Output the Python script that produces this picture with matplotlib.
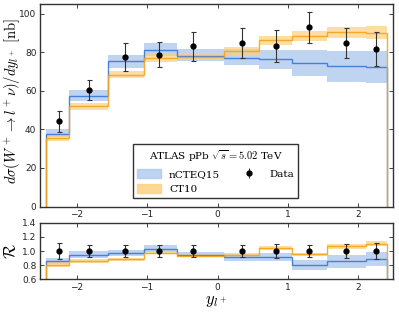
import numpy as np
import matplotlib
matplotlib.use("Agg")
import matplotlib.pyplot as plt
from matplotlib.patches import Patch

plt.rcParams['mathtext.fontset'] = 'cm'
plt.rcParams['font.family'] = 'DejaVu Sans'

# bin edges in y_l+
edges = np.array([-2.44, -2.11, -1.55, -1.05, -0.58, 0.085, 0.59, 1.06, 1.55, 2.11, 2.40])

# ATLAS data points
data_x = np.array([-2.25, -1.83, -1.31, -0.825, -0.35, 0.345, 0.83, 1.30, 1.83, 2.25])
data_y = np.array([44.1, 60.6, 77.6, 78.8, 83.1, 84.8, 83.1, 92.9, 84.8, 81.7])
data_err = np.array([5.2, 5.2, 7.1, 6.6, 7.4, 7.8, 8.2, 8.2, 7.9, 8.7])

# nCTEQ15 prediction
ncteq_c = np.array([37.6, 57.5, 75.6, 81.0, 78.0, 77.0, 76.4, 74.4, 72.7, 72.5])
ncteq_lo = np.array([36.0, 54.5, 71.8, 78.0, 75.6, 73.2, 71.5, 67.5, 64.4, 64.2])
ncteq_hi = np.array([40.0, 60.5, 78.8, 85.0, 81.6, 81.7, 81.3, 81.0, 80.5, 80.5])

# CT10 prediction
ct10_c = np.array([35.5, 51.9, 68.4, 77.0, 77.8, 80.5, 86.2, 88.6, 90.3, 90.0])
ct10_lo = np.array([34.0, 50.2, 66.7, 75.1, 76.0, 78.8, 84.0, 85.7, 87.4, 87.0])
ct10_hi = np.array([37.0, 53.6, 70.1, 78.9, 79.6, 82.8, 88.6, 90.9, 93.1, 93.4])

blue_line = '#3a78d4'
blue_band = '#aac6ec'
orange_line = '#f5a41c'
orange_band = '#fdcf7a'

fig = plt.figure(figsize=(3.99, 3.12), dpi=100)
ax = fig.add_axes([0.100, 0.338, 0.885, 0.649])
axr = fig.add_axes([0.100, 0.105, 0.885, 0.181])


def draw(a, nc, nlo, nhi, cc, clo, chi, dy, de):
    a.stairs(nhi, edges, baseline=nlo, fill=True, color=blue_band, alpha=0.75, lw=0)
    a.stairs(chi, edges, baseline=clo, fill=True, color=orange_band, alpha=0.7, lw=0)
    a.stairs(nc, edges, baseline=0, color=blue_line, lw=1.0, alpha=0.9)
    a.stairs(cc, edges, baseline=0, color=orange_line, lw=1.0, alpha=0.9)
    a.errorbar(data_x, dy, yerr=de, fmt='o', color='black', ms=3.5,
               ecolor='#333333', elinewidth=0.8, capsize=1.8, capthick=0.8)


draw(ax, ncteq_c, ncteq_lo, ncteq_hi, ct10_c, ct10_lo, ct10_hi, data_y, data_err)
draw(axr, ncteq_c / data_y, ncteq_lo / data_y, ncteq_hi / data_y,
     ct10_c / data_y, ct10_lo / data_y, ct10_hi / data_y,
     np.ones_like(data_y), data_err / data_y)

for a in (ax, axr):
    a.set_xlim(-2.52, 2.49)
    a.set_xticks([-2, -1, 0, 1, 2])
    a.tick_params(direction='in', top=True, right=True, labelsize=6.5,
                  length=3, width=0.6, colors='#222222', pad=2.5)
    for s in a.spines.values():
        s.set_linewidth(1.0)
        s.set_color('#333333')

ax.set_ylim(0, 105)
ax.set_yticks([0, 20, 40, 60, 80, 100])
ax.set_ylabel(r'$d\sigma(W^+\rightarrow l^+\nu)/dy_{l^+}\ [\mathrm{nb}]$', fontsize=10.5)
ax.yaxis.set_label_coords(-0.052, 0.52)

axr.set_ylim(0.6, 1.4)
axr.set_yticks([0.6, 0.8, 1.0, 1.2, 1.4])
axr.set_ylabel(r'$\mathcal{R}$', fontsize=12)
axr.yaxis.set_label_coords(-0.055, 0.5)
axr.set_xlabel(r'$y_{l^+}$', fontsize=12)
axr.xaxis.set_label_coords(0.5, -0.2)

h_err = ax.errorbar([], [], yerr=[], fmt='o', color='black', ms=3.5,
                    ecolor='#333333', elinewidth=0.8, capsize=1.8)
handles = [Patch(facecolor=blue_band, edgecolor=blue_band, alpha=0.75),
           Patch(facecolor=orange_band, edgecolor=orange_band, alpha=0.8),
           h_err]
labels = ['nCTEQ15', 'CT10', 'Data']
leg = ax.legend(handles, labels, ncol=2,
                title=r'ATLAS pPb $\sqrt{s}=5.02$ TeV',
                loc='lower center', bbox_to_anchor=(0.497, 0.041),
                borderaxespad=0, fancybox=False, framealpha=1,
                edgecolor='#333333', prop={'family': 'serif', 'size': 7.5},
                title_fontproperties={'family': 'serif', 'size': 7.5},
                handlelength=2.3, handleheight=1.0, handletextpad=0.8,
                columnspacing=1.6, labelspacing=0.45, borderpad=0.4)
leg.get_frame().set_linewidth(1.0)

fig.savefig('out.png', dpi=100)
